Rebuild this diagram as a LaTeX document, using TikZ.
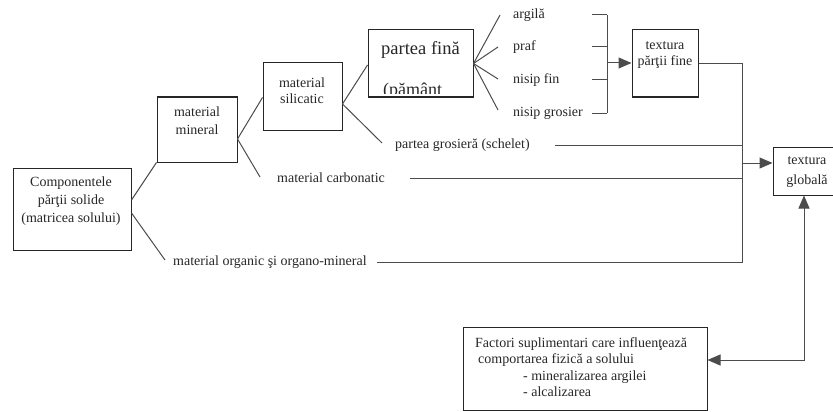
\documentclass[tikz,border=0pt]{standalone}
\usepackage{fontspec}
\setmainfont{Liberation Serif}
\usetikzlibrary{arrows.meta}
\begin{document}
\begin{tikzpicture}[x=1pt,y=-1pt,
  box/.style={draw=black!85, line width=1pt, inner sep=0pt},
  txt/.style={font=\fontsize{14}{18}\selectfont, align=center, inner sep=0pt, text=black!85},
  lbl/.style={font=\fontsize{14}{18}\selectfont, inner sep=0pt, anchor=west, text=black!85},
  ln/.style={draw=black!70, line width=1pt},
  arr/.style={ln, -{Triangle[length=13pt,width=11pt]}},
  arrboth/.style={ln, {Triangle[length=13pt,width=11pt]}-{Triangle[length=13pt,width=11pt]}},
]
\useasboundingbox (0,0) rectangle (833,412);
\clip (0,0) rectangle (833,412);
% boxes
\node[box, minimum width=118pt, minimum height=82pt] (comp) at (72,209) {};
\node[box, minimum width=80pt, minimum height=65pt] (miner) at (197,129.5) {};
\node[box, minimum width=79pt, minimum height=67pt] (silic) at (302.5,96.5) {};
\node[box, minimum width=105pt, minimum height=67pt] (fina) at (420.5,63.5) {};
\node[box, minimum width=66pt, minimum height=67pt] (tfine) at (665,63.5) {};
\node[box, minimum width=65pt, minimum height=48pt] (glob) at (805.5,171) {};
\node[box, minimum width=244pt, minimum height=83pt] (fact) at (585,368.5) {};
% box texts
\node[txt] (compt) at (71,201.5) {Componentele\\părţii solide\\(matricea solului)};
\node[txt] (minert) at (197,121) {material\\mineral};
\node[txt, font=\fontsize{14}{16}\selectfont] (silict) at (302,90.5) {material\\silicatic};
\node[lbl, font=\fontsize{18.5}{20}\selectfont] (finat) at (381,50) {partea fină};
\begin{scope}
\clip (368.5,30.5) rectangle (472.5,93.3);
\node[inner sep=0pt, anchor=base west, font=\fontsize{18}{20}\selectfont, text=black!85] (pamant) at (383,95.5) {(pământ};
\end{scope}
\node[txt, font=\fontsize{14}{16}\selectfont] (tfinet) at (665,55) {textura\\părţii fine};
\node[txt, font=\fontsize{14}{20}\selectfont] (globt) at (807,172) {textura\\globală};
\node[inner sep=0pt, anchor=north west, align=left, font=\fontsize{14}{16.5}\selectfont, text=black!85] (factt) at (475,337.3)
  {Factori suplimentari care influenţează\\
   \hspace*{3pt}comportarea fizică a solului\\
   \hspace*{48pt}- mineralizarea argilei\\
   \hspace*{48pt}- alcalizarea};
% labels
\node[lbl] (argila) at (513,15) {argilă};
\node[lbl] (praf) at (513,47) {praf};
\node[lbl] (nisipfin) at (513,80) {nisip fin};
\node[lbl] (nisipgr) at (513,113) {nisip grosier};
\node[lbl] (grosiera) at (395,145) {partea grosieră (schelet)};
\node[lbl] (carbon) at (277,178) {material carbonatic};
\node[lbl] (organic) at (173,262) {material organic şi organo-mineral};
% coordinates
\coordinate (bx) at (607,63);
\coordinate (cx) at (742,163);
\coordinate (fx) at (804,360);
% tree connectors
\draw[ln] ([yshift=9pt]comp.east) -- (miner.south west);
\draw[ln] ([yshift=-4pt]comp.east) -- ([xshift=-8pt,yshift=2pt]organic.west);
\draw[ln] ([yshift=-9.5pt]miner.east) -- ([yshift=-1pt]silic.west);
\draw[ln] ([yshift=-9.5pt]miner.east) -- ([xshift=-17pt,yshift=1pt]carbon.west);
\draw[ln] ([yshift=-7.5pt]silic.east) -- ([yshift=-1.5pt]fina.west);
\draw[ln] ([yshift=-7.5pt]silic.east) -- ([xshift=-13pt,yshift=2pt]grosiera.west);
\draw[ln] (fina.east) -- ([xshift=-13pt]argila.west);
\draw[ln] (fina.east) -- ([xshift=-15pt]praf.west);
\draw[ln] (fina.east) -- ([xshift=-15pt,yshift=1pt]nisipfin.west);
\draw[ln] (fina.east) -- ([xshift=-15pt,yshift=3pt]nisipgr.west);
% bracket
\draw[ln] ([xshift=-15pt]bx |- argila.west) -- (bx |- argila.west);
\draw[ln] ([xshift=-15pt]bx |- praf.west) -- (bx |- praf.west);
\draw[ln] ([xshift=-15pt]bx |- nisipfin.west) -- (bx |- nisipfin.west);
\draw[ln] ([xshift=-15pt]bx |- nisipgr.west) -- (bx |- nisipgr.west);
\draw[ln] (bx |- argila.west) -- (bx |- nisipgr.west);
\draw[arr] (bx) -- (bx -| tfine.west);
% collector
\draw[ln] (tfine.east) -| (cx |- organic.east) -- ([xshift=10pt]organic.east);
\draw[ln] ([xshift=25pt]grosiera.east) -- (cx |- grosiera.east);
\draw[ln] ([xshift=25pt]carbon.east) -- (cx |- carbon.east);
\draw[arr] (cx) -- (cx -| glob.west);
% factors
\draw[arrboth] ([yshift=8.5pt]fact.east) -- (fx) -- (fx |- glob.south);
\end{tikzpicture}
\end{document}
